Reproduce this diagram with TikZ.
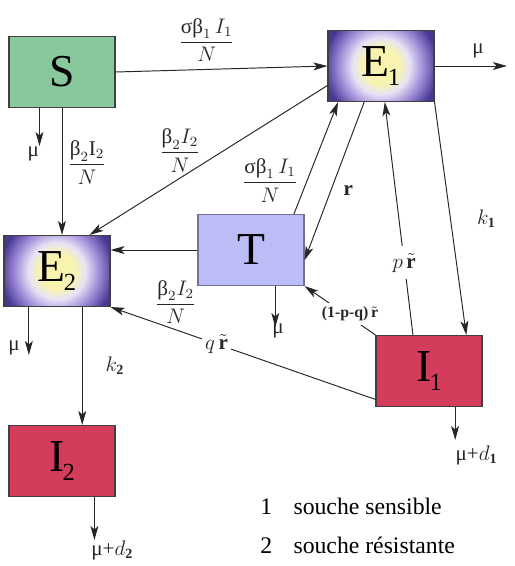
\documentclass[tikz,border=0pt]{standalone}
\usepackage{fontspec}
\setmainfont{Liberation Serif}
\usepackage{amsmath}
\usetikzlibrary{arrows.meta}

\definecolor{sgreen}{RGB}{136,200,156}
\definecolor{evio}{RGB}{72,56,148}
\definecolor{elav}{RGB}{160,140,216}
\definecolor{eglow}{RGB}{248,244,176}
\definecolor{tlav}{RGB}{188,188,246}
\definecolor{ired}{RGB}{212,60,92}

\pgfdeclareradialshading{glow}{\pgfpoint{0bp}{0bp}}{color(0bp)=(eglow); color(6bp)=(eglow); color(9.5bp)=(white!75!elav); color(14bp)=(elav); color(19bp)=(evio); color(50bp)=(evio)}

\newcommand\boxsub[1]{\kern-1pt\raisebox{-5pt}{\fontsize{14}{14}\selectfont #1}}

\begin{document}
\begin{tikzpicture}[x=0.02cm, y=-0.02cm,
    box/.style={draw=black!75, line width=0.6pt, minimum width=2.12cm, minimum height=1.42cm, inner sep=0pt, font=\fontsize{26}{28}\selectfont},
    ebox/.style={box, fill=evio, path picture={\shade[shading=glow] (path picture bounding box.center) circle (1.5cm);}},
    flow/.style={-{Stealth[length=8pt,width=4.5pt,inset=2pt]}, line width=0.55pt, black!85},
    lab/.style={font=\fontsize{12}{14}\selectfont, inner sep=1pt},
    gap/.style={lab, fill=white, inner sep=2pt},
    legend/.style={font=\fontsize{13.5}{16}\selectfont, anchor=west, inner sep=0pt}]
    \useasboundingbox (0,0) rectangle (515,566);

    % Compartments
    \node[box, fill=sgreen] (S) at (62,72) {S};
    \node[ebox] (E1) at (381,66) {E\boxsub{1}};
    \node[ebox] (E2) at (57,271) {E\boxsub{2}};
    \node[box, fill=tlav, draw=tlav!60!black] (T) at (251,250) {T};
    \node[box, fill=ired] (I1) at (429,371) {I\boxsub{1}};
    \node[box, fill=ired] (I2) at (62,461) {I\boxsub{2}};

    % Ends of the outflows
    \coordinate (muS) at (40,146);
    \coordinate (muE1) at (507,66);
    \coordinate (muE2) at (30,355);
    \coordinate (muT) at (276,327);
    \coordinate (muI1) at (455,440);
    \coordinate (muI2) at (95,540);

    % Infection
    \draw[flow] (S.east) -- (E1.west) node[lab, pos=0.43, above=3pt] {$\dfrac{\text{σβ}_1\, I_1}{N}$};
    \draw[flow] (S.south) -- (S.south |- E2.north) node[lab, pos=0.43, right=2pt] {$\dfrac{\text{β}_2 \mathrm{I}_2}{N}$};
    \draw[flow] (E1.200) -- (E2.48.5) node[lab, pos=0.62, above=2pt] {$\dfrac{\text{β}_2 I_2}{N}$};
    \draw[flow] (T.40.6) -- (E1.220.5) node[lab, pos=0.3, left=4pt] {$\dfrac{\text{σβ}_1\, I_1}{N}$};
    \draw[flow] (T.west) -- (T.west -| E2.east) node[lab, pos=0.25, below=16pt] {$\dfrac{\text{β}_2 I_2}{N}$};

    % Treatment and relapse
    \draw[flow] (E1.245.7) -- (T.349.5) node[lab, pos=0.56, right=6pt] {\textbf{r}};
    \draw[flow] (I1.114) -- (E1.276.4) node[gap, pos=0.31, inner sep=4pt] {$p\,\tilde{\mathbf{r}}$};
    \draw[flow] (I1.north west) -- (T.south east) node[gap, pos=0.36, yshift=2pt, font=\fontsize{9}{11}\selectfont\bfseries] {(1-p-q)\,$\tilde{\mathbf{r}}$};
    \draw[flow] (I1.208.2) -- (E2.south east) node[gap, pos=0.6] {$q\,\tilde{\mathbf{r}}$};

    % Progression
    \draw[flow] (E1.south east) -- (I1.44.2) node[lab, midway, right=14pt] {$k_{\mathbf{1}}$};
    \draw[flow] (E2.305.5) -- (E2.305.5 |- I2.north) node[lab, midway, right=12pt] {$k_{\mathbf{2}}$};

    % Deaths
    \draw[flow] (S.238.6) -- (S.238.6 |- muS) node[lab, below left=-1pt] {μ};
    \draw[flow] (E1.east) -- (muE1) node[lab, pos=0.6, above=3pt] {μ};
    \draw[flow] (E2.232.4) -- (E2.232.4 |- muE2) node[lab, pos=0.85, left=4pt] {μ};
    \draw[flow] (T.304.8) -- (T.304.8 |- muT) node[lab, below right=-3pt] {μ};
    \draw[flow] (I1.306.2) -- (I1.306.2 |- muI1) node[lab, anchor=north west, inner sep=0pt, yshift=-3pt] {μ+$d_{\mathbf{1}}$};
    \draw[flow] (I2.312.5) -- (I2.312.5 |- muI2) node[lab, anchor=north west, inner sep=0pt, xshift=-2pt] {μ+$d_{\mathbf{2}}$};

    % Key
    \node[legend] (key1) at (260,506) {1\hspace{0.9em}souche sensible};
    \node[legend] (key2) at (260,545) {2\hspace{0.9em}souche résistante};
\end{tikzpicture}
\end{document}
